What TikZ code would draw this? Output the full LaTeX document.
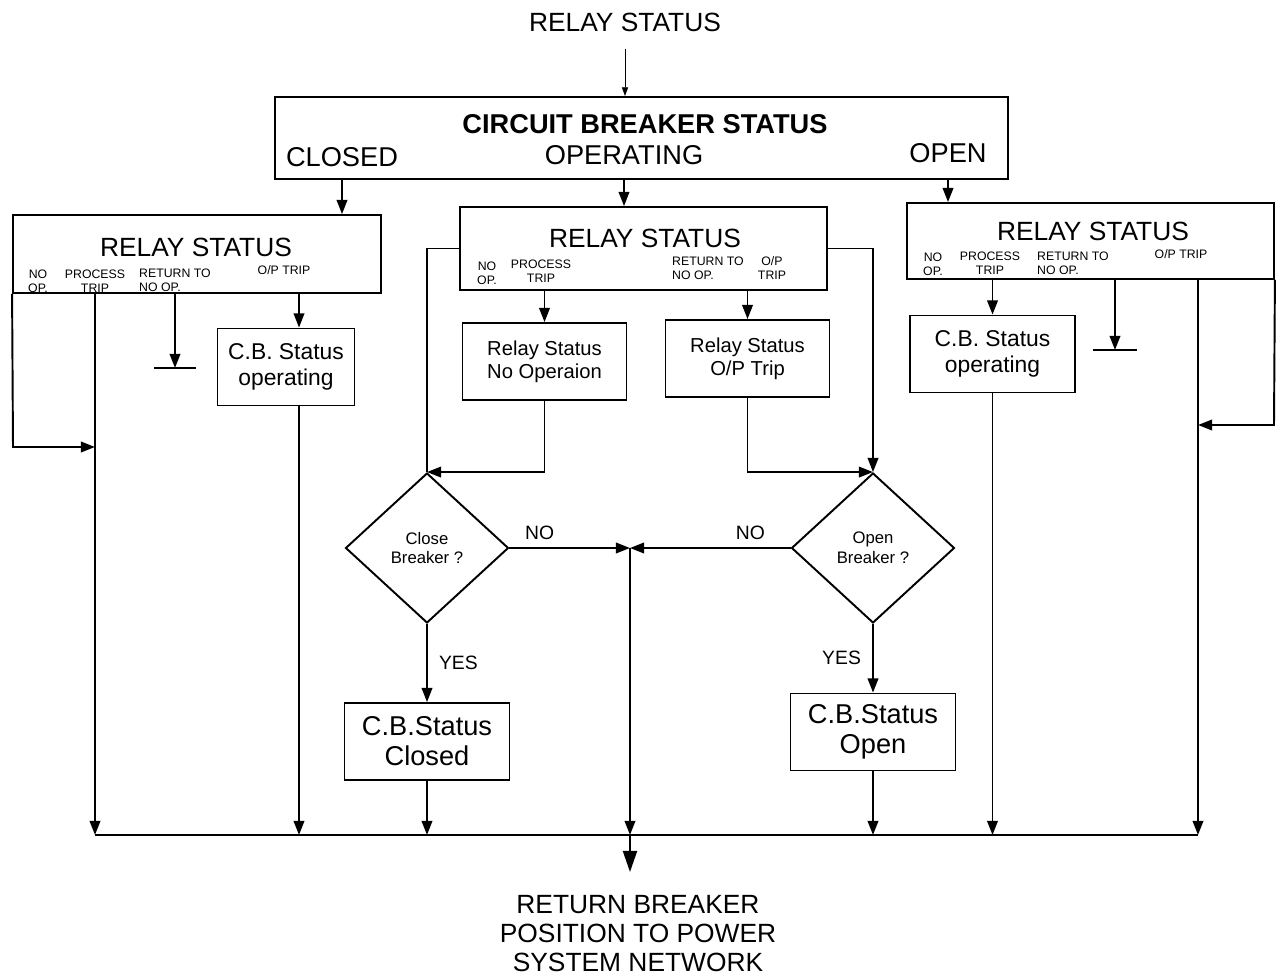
\documentclass[tikz,border=0pt]{standalone}
\usepackage{fontspec}
\setmainfont{Liberation Sans}
\usetikzlibrary{arrows.meta}
\usetikzlibrary{shapes.geometric}
\usetikzlibrary{positioning}

\begin{document}
\begin{tikzpicture}[->,
                    >={Triangle[length=8pt,width=6pt]},
                    line width=1.1pt,
                    x=0.02cm, y=-0.02cm,
                    box/.style={rectangle,draw,align=center,inner sep=0pt},
                    dia/.style={diamond,draw,align=center,inner sep=0pt,minimum width=3.26cm,minimum height=3cm,
                                font=\fontsize{9.5}{11.3}\selectfont},
                    hdr/.style={font=\fontsize{15}{17}\selectfont},
                    lbl/.style={font=\fontsize{7}{8}\selectfont,align=center,inner sep=0pt},
                    yn/.style={font=\fontsize{11}{13}\selectfont},
                    cbop/.style={box,minimum width=3.3cm,minimum height=1.54cm,font=\fontsize{13}{14.5}\selectfont},
                    rsbox/.style={box,minimum width=3.28cm,minimum height=1.54cm,font=\fontsize{11.5}{13}\selectfont},
                    cbres/.style={box,minimum width=3.3cm,minimum height=1.54cm,font=\fontsize{15.5}{17}\selectfont}
                    ]
\useasboundingbox (0,0) rectangle (1276,979);

% CB status
\node[hdr] (rin) at (625,22) {RELAY STATUS};
\node[box,minimum width=14.66cm,minimum height=1.64cm] (cbs) at (641.5,138) {};
\node[font=\bfseries\fontsize{15.5}{17}\selectfont] (cbt) at (645,124) {CIRCUIT BREAKER STATUS};
\node[font=\fontsize{15.5}{17}\selectfont] (clo) at (342,157) {CLOSED};
\node[font=\fontsize{15.5}{17}\selectfont] (ope) at (624,155) {OPERATING};
\node[font=\fontsize{15.5}{17}\selectfont] (opn) at (948,153) {OPEN};
\draw[line width=0.5pt,>={Triangle[length=5pt,width=3.5pt]},shorten <=6pt] (rin.south) -- (cbs.north -| rin);

% left: closed
\node[box,minimum width=7.36cm,minimum height=1.56cm] (lrs) at (197,254) {};
\node[hdr] (lrst) at (196,247) {RELAY STATUS};
\node[lbl] (lno) at (38,281) {NO\\OP.};
\node[lbl] (lpt) at (95,281) {PROCESS\\TRIP};
\node[lbl,align=left] (lrt) at (175,280) {RETURN TO\\NO OP.};
\node[lbl] (lop) at (284,270) {O/P TRIP};
\node[cbop,minimum width=2.74cm] (lcb) at (286,367) {C.B. Status\\operating};
\coordinate (lx) at (299,0);
\coordinate (lgnd) at (175,368);
\coordinate (lloop) at (13,447);
\coordinate (busL) at (0,835);

\draw (cbs.south -| clo) -- (lrs.north -| clo);
\draw (lrs.south -| lpt) -- (lpt |- busL);
\draw (lrs.south -| lrt) -- (lgnd);
\draw[-] ([xshift=-0.42cm]lgnd) -- ([xshift=0.42cm]lgnd);
\draw (lrs.south -| lx) -- (lcb.north -| lx);
\draw (lcb.south -| lx) -- (lx |- busL);
\draw (lrs.south west) -- (lloop) -- (lloop -| lpt);

% middle: operating
\node[box,minimum width=7.34cm,minimum height=1.66cm] (mrs) at (643.5,248.5) {};
\node[hdr] (mrst) at (645,238) {RELAY STATUS};
\node[lbl] (mno) at (487,273) {NO\\OP.};
\node[lbl] (mpt) at (541,271) {PROCESS\\TRIP};
\node[lbl,align=left] (mrt) at (708,268) {RETURN TO\\NO OP.};
\node[lbl] (mop) at (772,268) {O/P\\TRIP};
\node[rsbox] (rsno) at (544.5,361.5) {Relay Status\\No Operaion};
\node[rsbox] (rsop) at (747.5,358.5) {Relay Status\\O/P Trip};

\draw (cbs.south -| ope) -- (mrs.north -| ope);
\draw (mrs.south -| rsno) -- (rsno.north);
\draw (mrs.south -| rsop) -- (rsop.north);

\node[dia] (cdia) at (427,548) {Close\\Breaker ?};
\node[dia] (odia) at (873,548) {Open\\Breaker ?};
\coordinate (mid) at (630,548);

\draw[-] (mrs.west) -| (cdia.north);
\draw (rsno.south) |- (cdia.north);
\draw (mrs.east) -| (odia.north);
\draw (rsop.south) |- (odia.north);

\draw (cdia.east) -- (mid) node[yn,pos=0.25,above=1pt] {NO};
\draw (odia.west) -- (mid) node[yn,pos=0.25,above=1pt] {NO};

\node[cbres] (ccl) at (427,741.5) {C.B.Status\\Closed};
\node[cbres] (cop) at (873,732) {C.B.Status\\Open};

\draw (cdia.south) -- (ccl.north) node[yn,midway,right=3pt] {YES};
\draw (odia.south) -- (cop.north) node[yn,midway,left=3pt] {YES};
\draw (ccl.south) -- (ccl.south |- busL);
\draw (cop.south) -- (cop.south |- busL);

% right: open
\node[box,minimum width=7.34cm,minimum height=1.52cm] (rrs) at (1090.5,241) {};
\node[hdr] (rrst) at (1093,231) {RELAY STATUS};
\node[lbl] (rno) at (933,264) {NO\\OP.};
\node[lbl] (rpt) at (990,263) {PROCESS\\TRIP};
\node[lbl,align=left] (rrt) at (1073,263) {RETURN TO\\NO OP.};
\node[lbl] (rop) at (1181,254) {O/P TRIP};
\node[cbop] (rcb) at (992.5,354) {C.B. Status\\operating};
\coordinate (rx) at (1198,0);
\coordinate (rgnd) at (1115,350);
\coordinate (rloop) at (1274,425);

\draw (cbs.south -| opn) -- (rrs.north -| opn);
\draw (rrs.south -| rcb) -- (rcb.north);
\draw (rcb.south) -- (rcb.south |- busL);
\draw (rrs.south -| rgnd) -- (rgnd);
\draw[-] ([xshift=-0.44cm]rgnd) -- ([xshift=0.44cm]rgnd);
\draw (rrs.south -| rx) -- (rx |- busL);
\draw (rrs.south east) -- (rloop) -- (rloop -| rx);

% output
\draw[-] (lpt |- busL) -- (rx |- busL);
\draw (mid) -- (mid |- busL);
\coordinate (sink) at (630,872);
\draw[-{Triangle[length=12pt,width=8pt]}] (mid |- busL) -- (sink);
\node[align=center,font=\fontsize{15}{16.5}\selectfont] (out) at (638,934) {RETURN BREAKER\\POSITION TO POWER\\SYSTEM NETWORK};
\end{tikzpicture}
\end{document}
